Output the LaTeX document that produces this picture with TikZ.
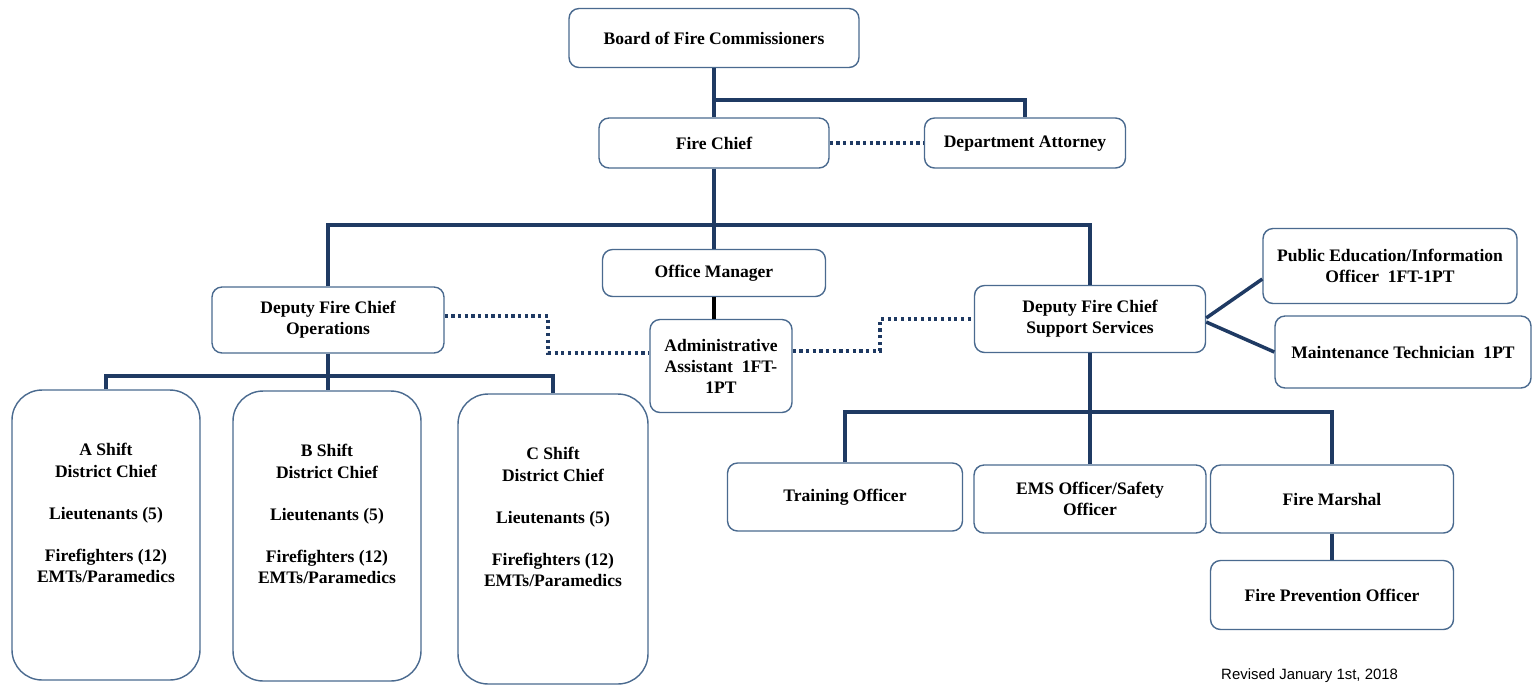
\documentclass[tikz,border=0pt]{standalone}
\usepackage{fontspec}
\setmainfont{Liberation Serif}
\newfontfamily\revfont{Liberation Sans}
\usepackage{tikz}
\usetikzlibrary{positioning}
\definecolor{linknavy}{HTML}{1F3A63}
\definecolor{boxedge}{HTML}{4A6A8F}
\tikzset{
    orgbox/.style={rectangle,rounded corners=0.2cm,draw=boxedge,line width=0.8pt,fill=white,inner sep=2pt,align=center,font=\bfseries},
    shiftbox/.style={orgbox,rounded corners=0.6cm,minimum width=3.76cm,minimum height=5.8cm},
    link/.style={linknavy,line width=2pt},
    dotlink/.style={linknavy,line width=1.8pt,dash pattern=on 1.8pt off 2pt},
}

\begin{document}
\begin{tikzpicture}[x=0.02cm, y=-0.02cm]
    \useasboundingbox (0,0) rectangle (1532,684);
    \node[orgbox, minimum width=5.8cm, minimum height=1.18cm] (board) at (714,38)
      {Board of Fire Commissioners};
    \node[orgbox, minimum width=4.6cm, minimum height=1cm] (fchief) at (714,143)
      {Fire Chief};
    \node[orgbox, minimum width=4.02cm, minimum height=1cm] (atty) at (1025,143)
      {\strut Department Attorney};
    \node[orgbox, minimum width=4.46cm, minimum height=0.94cm] (ofm) at (714,273)
      {Office Manager};
    \node[orgbox, minimum width=4.64cm, minimum height=1.32cm] (ops) at (328,320)
      {Deputy Fire Chief\\Operations};
    \node[orgbox, minimum width=2.84cm, minimum height=1.86cm] (admin) at (721,366)
      {Administrative\\Assistant\ \ 1FT-\\1PT};
    \node[orgbox, minimum width=4.62cm, minimum height=1.34cm] (sup) at (1090,319)
      {Deputy Fire Chief\\Support Services};
    \node[orgbox, minimum width=5.08cm, minimum height=1.5cm] (pubed) at (1390,266)
      {Public Education/Information\\Officer\ \ 1FT-1PT};
    \node[orgbox, minimum width=5.12cm, minimum height=1.44cm] (maint) at (1403,352)
      {Maintenance Technician\ \ 1PT};

    \node[shiftbox] (ashift) at (106,535)
      {A Shift\\District Chief\\[12pt]Lieutenants (5)\\[12pt]Firefighters (12)\\EMTs/Paramedics\\[13pt]\mbox{}};
    \node[shiftbox] (bshift) at (327,536)
      {B Shift\\District Chief\\[12pt]Lieutenants (5)\\[12pt]Firefighters (12)\\EMTs/Paramedics\\[13pt]\mbox{}};
    \node[shiftbox, minimum width=3.8cm] (cshift) at (553,539)
      {C Shift\\District Chief\\[12pt]Lieutenants (5)\\[12pt]Firefighters (12)\\EMTs/Paramedics\\[13pt]\mbox{}};

    \node[orgbox, minimum width=4.7cm, minimum height=1.36cm] (train) at (845,497)
      {Training Officer};
    \node[orgbox, minimum width=4.64cm, minimum height=1.36cm] (ems) at (1090,499)
      {EMS Officer/Safety\\Officer};
    \node[orgbox, minimum width=4.86cm, minimum height=1.36cm] (fm) at (1332,499)
      {Fire Marshal};
    \node[orgbox, minimum width=4.86cm, minimum height=1.38cm] (fprev) at (1332,595)
      {Fire Prevention Officer};

    \node[anchor=base west, font=\revfont\fontsize{8.5}{10}\selectfont] (rev) at (1215,679)
      {Revised January 1st, 2018};

    \coordinate (bus0) at (714,100);
    \coordinate (bus1) at (714,225);
    \coordinate (bus2) at (1090,412);
    \coordinate (bus3) at (330,376);

    \draw[link] (board.south) -- (fchief.north);
    \draw[link] (bus0) -| (atty.north);
    \draw[link] (fchief.south) -- (ofm.north);
    \draw[link] (ops.north) |- (bus1) -| (sup.north);
    \draw[link, black] (ofm.south) -- (ofm.south |- admin.north);
    \draw[dotlink] (fchief.east) -- (atty.west);
    \draw[dotlink] ([yshift=0.08cm]ops.east) -| (548,340) |- ([yshift=0.26cm]admin.west);
    \draw[dotlink] ([yshift=0.3cm]admin.east) -| (880,336) |- (sup.west);
    \draw[link] ([yshift=0.02cm]sup.east) -- ([yshift=-0.26cm]pubed.west);
    \draw[link] ([yshift=-0.06cm]sup.east) -- (maint.west);
    \draw[link] (ops.south) -- (ops.south |- bshift.north);
    \draw[link] (ashift.north) |- (bus3) -| (cshift.north);
    \draw[link] (sup.south) -- (ems.north);
    \draw[link] (train.north) |- (bus2) -| (fm.north);
    \draw[link] (fm.south) -- (fprev.north);
\end{tikzpicture}
\end{document}
